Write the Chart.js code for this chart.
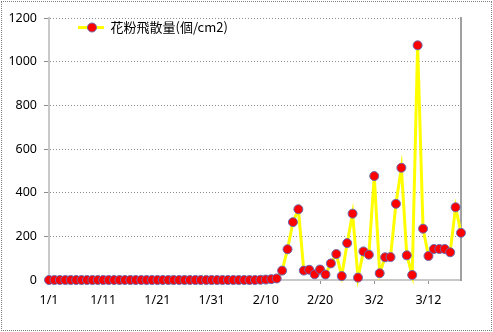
<!DOCTYPE html>
<html><head><meta charset="utf-8">
<script src="https://cdn.jsdelivr.net/npm/chart.js@4"></script>
<style>
html,body{margin:0;padding:0;background:#fff;}
#wrap{position:relative;width:493px;height:332px;overflow:hidden;}
#frame{position:absolute;left:1px;top:1px;width:489px;height:328px;border:1px dotted #808080;pointer-events:none;}
canvas{position:absolute;left:0;top:0;}
</style></head>
<body><div id="wrap"><canvas id="c" width="493" height="332"></canvas><div id="frame"></div></div>
<script>
const dates = [
 '1/1','1/2','1/3','1/4','1/5','1/6','1/7','1/8','1/9','1/10',
 '1/11','1/12','1/13','1/14','1/15','1/16','1/17','1/18','1/19','1/20',
 '1/21','1/22','1/23','1/24','1/25','1/26','1/27','1/28','1/29','1/30',
 '1/31','2/1','2/2','2/3','2/4','2/5','2/6','2/7','2/8','2/9',
 '2/10','2/11','2/12','2/13','2/14','2/15','2/16','2/17','2/18','2/19',
 '2/20','2/21','2/22','2/23','2/24','2/25','2/26','2/27','2/28','3/1',
 '3/2','3/3','3/4','3/5','3/6','3/7','3/8','3/9','3/10','3/11',
 '3/12','3/13','3/14','3/15','3/16','3/17','3/18'
];
const pollen = [
 0,0,0,0,0,0,0,0,0,0,
 0,0,0,0,0,0,0,0,0,0,
 0,0,0,0,0,0,0,0,0,0,
 0,0,0,0,0,0,0,0,0,1,
 2,4,7,43,141,265,324,43,47,26,
 48,25,76,119,18,169,304,11,131,116,
 476,31,104,105,349,514,113,23,1075,235,
 110,142,142,142,127,333,216
];
const xTickLabels = ['1/1','1/11','1/21','1/31','2/10','2/20','3/2','3/12'];
const yTickValues = [0,200,400,600,800,1000,1200];
const seriesName = '花粉飛散量(個/cm2)';

// legend icon: line with marker
const icon = document.createElement('canvas');
icon.width = 34; icon.height = 13;
(function(){
  const g = icon.getContext('2d');
  g.strokeStyle = '#ffff00'; g.lineWidth = 3;
  g.beginPath(); g.moveTo(8, 6.5); g.lineTo(34, 6.5); g.stroke();
  g.beginPath(); g.arc(22, 6.5, 4.5, 0, Math.PI*2);
  g.fillStyle = '#ff0000'; g.fill();
  g.lineWidth = 1; g.strokeStyle = '#6a6ab0'; g.stroke();
})();

const tickFont = {family: "'Noto Sans', 'DejaVu Sans', sans-serif", size: 12.5};

new Chart(document.getElementById('c'), {
  type: 'line',
  data: {
    labels: dates,
    datasets: [{
      label: seriesName,
      data: pollen,
      borderColor: '#ffff00',
      backgroundColor: '#ff0000',
      borderWidth: 3,
      pointRadius: 4.5,
      pointHoverRadius: 4.5,
      pointBackgroundColor: '#ff0000',
      pointBorderColor: '#6a6ab0',
      pointBorderWidth: 1,
      tension: 0,
      clip: false
    }]
  },
  options: {
    responsive: false,
    animation: false,
    devicePixelRatio: 1,
    layout: {padding: {left: 0, right: 32, top: 18, bottom: 0}},
    plugins: {
      tooltip: {enabled: false},
      legend: {
        position: 'chartArea',
        align: 'start',
        labels: {
          usePointStyle: true,
          pointStyle: icon,
          pointStyleWidth: 34,
          padding: 21,
          color: '#000',
          font: {family: "'Noto Sans CJK JP', sans-serif", size: 13}
        }
      }
    },
    scales: {
      x: {
        type: 'category',
        offset: false,
        afterFit: s => { s.height = 52; },
        grid: {
          drawOnChartArea: false,
          drawTicks: true,
          tickLength: 4,
          color: c => (xTickLabels.includes(dates[c.index])) ? '#909090' : 'rgba(0,0,0,0)',
          tickColor: c => (xTickLabels.includes(dates[c.index])) ? '#909090' : 'rgba(0,0,0,0)'
        },
        border: {display: true, color: '#c8c8c8', width: 2},
        ticks: {
          autoSkip: false,
          maxRotation: 0,
          minRotation: 0,
          padding: 9,
          color: '#000',
          font: tickFont,
          callback: (v, i) => xTickLabels.includes(dates[i]) ? dates[i] : ''
        }
      },
      y: {
        min: 0,
        max: 1200,
        afterFit: s => { s.width = 49; },
        afterBuildTicks: s => { s.ticks = yTickValues.map(v => ({value: v})); },
        grid: {
          color: '#8c8c8c',
          lineWidth: 1,
          tickLength: 5,
          drawTicks: true
        },
        border: {display: true, color: '#c8c8c8', width: 2, dash: [1, 2]},
        ticks: {
          padding: 7,
          color: '#000',
          font: tickFont,
          callback: v => String(v)
        }
      },
      y1: {
        position: 'right',
        min: 0,
        max: 1200,
        afterFit: s => { s.width = 0; },
        grid: {drawOnChartArea: false, drawTicks: false},
        border: {display: true, color: '#a0a0a0', width: 2},
        ticks: {display: false}
      }
    }
  }
});
</script>
</body></html>
